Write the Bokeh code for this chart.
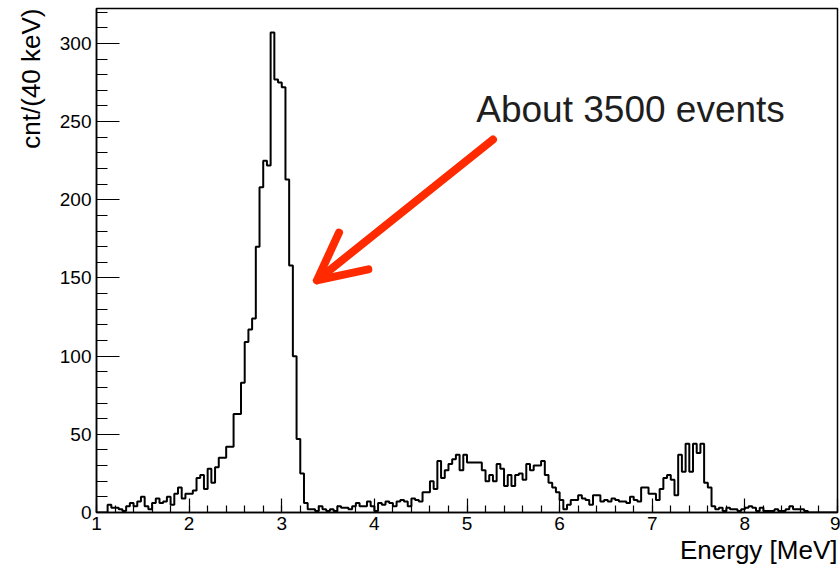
from bokeh.embed import file_html
from bokeh.models import Arrow, Label, OpenHead, Range1d, SingleIntervalTicker, Title
from bokeh.plotting import figure
from bokeh.resources import INLINE

# Energy spectrum, 40 keV bins from 1 to 9 MeV
e_min = 1.0
e_max = 9.0
bin_width = 0.04

counts = [
    0, 0, 0, 5, 3, 3, 2, 1, 4, 6,
    4, 7, 10, 4, 2, 6, 9, 6, 7, 10,
    5, 12, 16, 9, 12, 12, 14, 22, 24, 15,
    28, 19, 29, 35, 35, 42, 42, 63, 63, 83,
    109, 117, 124, 170, 208, 225, 222, 307, 277, 275,
    272, 213, 158, 100, 47, 25, 6, 2, 2, 1,
    4, 2, 1, 2, 1, 4, 3, 3, 2, 4,
    6, 4, 4, 7, 4, 1, 6, 5, 7, 6,
    4, 7, 8, 7, 4, 9, 8, 7, 13, 13,
    20, 15, 33, 22, 27, 31, 34, 37, 27, 37,
    32, 32, 32, 32, 27, 20, 24, 20, 31, 28,
    17, 24, 17, 24, 25, 21, 31, 27, 30, 30,
    33, 24, 19, 16, 13, 8, 2, 5, 8, 8,
    11, 9, 8, 5, 11, 11, 7, 8, 7, 9,
    8, 7, 7, 6, 10, 8, 7, 16, 16, 12,
    12, 8, 15, 22, 24, 21, 11, 37, 26, 44,
    26, 44, 38, 44, 19, 16, 4, 2, 3, 1,
    3, 2, 2, 1, 2, 3, 4, 3, 1, 3,
    1, 1, 1, 2, 1, 1, 2, 4, 2, 2,
    2, 1, 0, 0, 0, 0, 0, 0, 0, 0,
]

x_title = "Energy [MeV]"
y_title = "cnt/(40 keV)"
note_text = "About 3500 events"

edges = [e_min + bin_width * i for i in range(len(counts) + 1)]
step_y = counts + [counts[-1]]

FONT = "Liberation Sans"
RED = "#ff2a00"

p = figure(
    width=840,
    height=565,
    x_range=Range1d(e_min, e_max),
    y_range=Range1d(0, 1.05 * max(counts)),
    output_backend="svg",
    toolbar_location=None,
    min_border_left=96,
    min_border_right=3,
    min_border_top=8,
    min_border_bottom=53,
)
p.grid.visible = False
p.background_fill_color = "white"
p.border_fill_color = "white"
p.outline_line_color = "black"
p.outline_line_width = 1.5

# ROOT-style axes: ticks pointing into the frame
p.xaxis.ticker = SingleIntervalTicker(interval=1, num_minor_ticks=5)
p.yaxis.ticker = SingleIntervalTicker(interval=50, num_minor_ticks=5)
for ax in (p.xaxis[0], p.yaxis[0]):
    ax.axis_line_color = "black"
    ax.axis_line_width = 1.5
    ax.major_tick_line_color = "black"
    ax.minor_tick_line_color = "black"
    ax.major_tick_line_width = 1.2
    ax.minor_tick_line_width = 1.2
    ax.major_tick_out = 0
    ax.minor_tick_out = 0
    ax.major_label_text_font = FONT
    ax.major_label_text_font_size = "19px"
    ax.major_label_text_color = "black"
p.xaxis.major_label_standoff = 4
p.yaxis.major_label_standoff = 5
p.xaxis.major_tick_in = 14
p.xaxis.minor_tick_in = 7
p.yaxis.major_tick_in = 23
p.yaxis.minor_tick_in = 11

# histogram outline
p.step(edges, step_y, mode="after", line_color="black", line_width=2)

# axis titles, aligned to the far ends of the axes
p.add_layout(Title(
    text=x_title, align="right", vertical_align="bottom", standoff=0,
    text_font=FONT, text_font_size="26px", text_font_style="normal",
    text_color="black",
), "below")
p.add_layout(Title(
    text=y_title, align="right", vertical_align="bottom", standoff=22,
    text_font=FONT, text_font_size="26px", text_font_style="normal",
    text_color="black",
), "left")

# annotation pointing at the peak
p.add_layout(Arrow(
    x_start=5.28, y_start=238.5, x_end=3.38, y_end=148.5,
    line_color=RED, line_width=8, line_cap="round",
    end=OpenHead(size=47, line_color=RED, line_width=8,
                 line_cap="round", line_join="round"),
))
p.add_layout(Label(
    x=5.10, y=258, text=note_text, text_align="left", text_baseline="alphabetic",
    text_font=FONT, text_font_size="37px", text_color="#1e1e1e",
))

open("out.html", "w").write(file_html(p, INLINE))
